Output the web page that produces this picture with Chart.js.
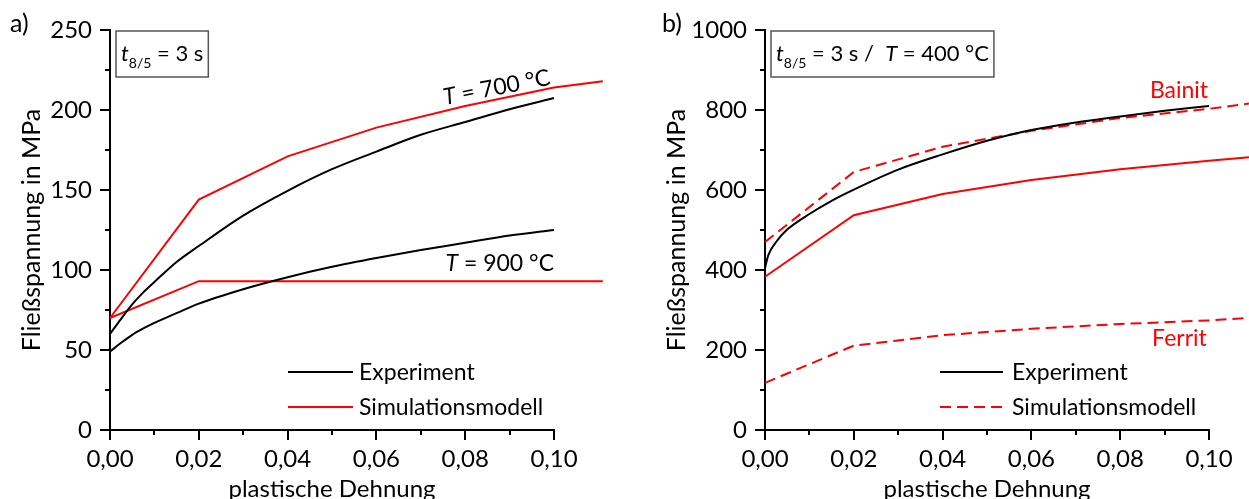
<!DOCTYPE html>
<html>
<head>
<meta charset="utf-8">
<script src="https://cdn.jsdelivr.net/npm/chart.js@4.4.1/dist/chart.umd.min.js"></script>
<style>
  html, body { margin: 0; padding: 0; background: #fff; width: 1249px; height: 499px; overflow: hidden; }
  canvas { position: absolute; top: 0; }
  #ca { left: 0; }
  #cb { left: 630px; }
</style>
</head>
<body>
<canvas id="ca" width="630" height="520"></canvas>
<canvas id="cb" width="619" height="520"></canvas>
<script>
// ---- axis ticks ----
const xTickValues = [0, 0.02, 0.04, 0.06, 0.08, 0.10];
const xTickLabels = ['0,00', '0,02', '0,04', '0,06', '0,08', '0,10'];
const xMinorValues = [0.01, 0.03, 0.05, 0.07, 0.09];

const yTickValuesA = [0, 50, 100, 150, 200, 250];
const yTickLabelsA = ['0', '50', '100', '150', '200', '250'];
const yMinorValuesA = [25, 75, 125, 175, 225];

const yTickValuesB = [0, 200, 400, 600, 800, 1000];
const yTickLabelsB = ['0', '200', '400', '600', '800', '1000'];
const yMinorValuesB = [100, 300, 500, 700, 900];

// ---- panel a): t8/5 = 3 s, flow stress vs. plastic strain ----
const strainExpA = [0, 0.0025, 0.005, 0.0075, 0.01, 0.015, 0.02, 0.03, 0.04, 0.05, 0.06, 0.07, 0.08, 0.09, 0.10];
const exp700 = [60, 69.5, 78.5, 86, 92.5, 105, 115, 134, 149.5, 163, 174, 184.5, 192.5, 200.5, 207.5];
const exp900 = [49, 54.5, 59.5, 63.5, 67, 73, 79, 88, 95.5, 102, 107.5, 112.5, 117, 121.5, 125];
const strainSim700 = [0, 0.02, 0.04, 0.06, 0.08, 0.10, 0.111];
const sim700 = [70, 144, 171, 189, 202.5, 214, 218];
const strainSim900 = [0, 0.02, 0.111];
const sim900 = [70, 93, 93];

// ---- panel b): t8/5 = 3 s / T = 400 °C ----
const strainExpB = [0, 0.00075, 0.0025, 0.005, 0.01, 0.015, 0.02, 0.03, 0.04, 0.05, 0.06, 0.07, 0.08, 0.09, 0.10];
const expB = [405, 437, 470, 501, 540, 573, 601, 651, 689, 723, 750, 769, 784, 798, 810];
const strainSimB = [0, 0.02, 0.04, 0.06, 0.08, 0.10, 0.109];
const simBainit = [470, 645, 708, 748, 780, 803, 816];
const simMixed = [383, 537, 590, 625, 652, 673, 682];
const simFerrit = [118, 211, 237, 253, 265, 274, 280];

const FONT = 'Lato, "Open Sans", sans-serif';
const RED = '#ff0000';
const DASH = [11, 6];

const pts = (xs, ys) => xs.map((x, i) => ({ x: x, y: ys[i] }));

function expSet(xs, ys) {
  return { data: pts(xs, ys), borderColor: '#000', borderWidth: 2, pointRadius: 0,
           cubicInterpolationMode: 'monotone', clip: false, order: 0 };
}
function simSet(xs, ys, dash) {
  return { data: pts(xs, ys), borderColor: RED, borderWidth: 2, pointRadius: 0,
           tension: 0, borderDash: dash || [], clip: false, order: 1 };
}

// outward major/minor tick marks on both axes
function tickMarks(p) {
  return {
    id: 'tickMarks',
    afterDraw(chart) {
      const c = chart.ctx, xs = chart.scales.x, ys = chart.scales.y;
      const a = chart.chartArea;
      c.save();
      c.strokeStyle = '#000';
      c.lineWidth = 2;
      c.beginPath();
      const xt = (vals, len) => vals.forEach(v => {
        const px = Math.round(xs.getPixelForValue(v));
        c.moveTo(px, a.bottom); c.lineTo(px, a.bottom + len);
      });
      const yt = (vals, len) => vals.forEach(v => {
        const py = Math.round(ys.getPixelForValue(v));
        c.moveTo(a.left, py); c.lineTo(a.left - len, py);
      });
      xt(xTickValues, 10); xt(xMinorValues, 5);
      yt(p.yTicks, 10); yt(p.yMinor, 5);
      c.stroke();
      c.restore();
    }
  };
}

function drawRuns(c, runs, x, y, size, subSize) {
  runs.forEach(r => {
    const s = r.sub ? subSize : size;
    c.font = (r.italic ? 'italic ' : '') + s + 'px ' + FONT;
    c.fillText(r.t, x, r.sub ? y + 7 : y);
    x += c.measureText(r.t).width;
  });
  return x;
}
function runsWidth(c, runs, size, subSize) {
  let w = 0;
  runs.forEach(r => {
    const s = r.sub ? subSize : size;
    c.font = (r.italic ? 'italic ' : '') + s + 'px ' + FONT;
    w += c.measureText(r.t).width;
  });
  return w;
}

// panel letter, info box, curve labels and legend
function decor(p) {
  return {
    id: 'decor',
    afterDraw(chart) {
      const c = chart.ctx, xs = chart.scales.x, ys = chart.scales.y;
      c.save();
      c.textBaseline = 'alphabetic';
      c.textAlign = 'left';
      c.fillStyle = '#000';
      c.font = '25px ' + FONT;
      c.fillText(p.letter, p.letterX, 32);

      // info box
      const b = p.box;
      const w = runsWidth(c, b.runs, 22, 14);
      c.fillStyle = '#fff';
      c.fillRect(b.x, 31, w + 10, 46);
      c.strokeStyle = '#555';
      c.lineWidth = 1.5;
      c.strokeRect(b.x, 31, w + 10, 46);
      c.fillStyle = '#000';
      drawRuns(c, b.runs, b.x + 5, 61, 22, 14);

      // curve labels
      p.labels.forEach(l => {
        const px = xs.getPixelForValue(l.x), py = ys.getPixelForValue(l.y);
        const w = runsWidth(c, l.runs, 23, 23);
        c.save();
        c.translate(px, py);
        c.rotate((l.rot || 0) * Math.PI / 180);
        c.fillStyle = l.color;
        const x0 = l.align === 'right' ? -w : l.align === 'center' ? -w / 2 : 0;
        drawRuns(c, l.runs, x0, 0, 23, 23);
        c.restore();
      });

      // legend
      const lg = p.legend;
      lg.items.forEach((it, i) => {
        const y = lg.y[i];
        c.beginPath();
        c.strokeStyle = it.color;
        c.lineWidth = 2;
        c.setLineDash(it.dash);
        c.moveTo(lg.x0, y); c.lineTo(lg.x1, y);
        c.stroke();
        c.setLineDash([]);
        c.fillStyle = '#000';
        c.font = '23px ' + FONT;
        c.textBaseline = 'middle';
        c.fillText(it.label, lg.tx, y + 1);
        c.textBaseline = 'alphabetic';
      });
      c.restore();
    }
  };
}

function buildPanel(id, p) {
  return new Chart(document.getElementById(id), {
    type: 'line',
    data: { datasets: p.datasets },
    options: {
      responsive: false,
      animation: false,
      events: [],
      layout: { padding: { left: 0, top: 30, right: p.padRight, bottom: 0 } },
      plugins: { legend: { display: false }, tooltip: { enabled: false } },
      scales: {
        x: {
          type: 'linear', bounds: 'data',
          // range 0 … 0.10 is set here (not as min/max) so the model lines
          // that run past 0.10 are still drawn in full
          afterDataLimits: s => { s.min = 0; s.max = 0.10; },
          afterBuildTicks: s => { s.ticks = xTickValues.map(v => ({ value: v })); s.min = 0; s.max = 0.10; },
          afterFit: s => { s.height = 90; s.paddingLeft = 0; s.paddingRight = 0; },
          ticks: { callback: (v, i) => xTickLabels[i], padding: 15, color: '#000',
                   font: { family: FONT, size: 24 }, maxRotation: 0, autoSkip: false },
          grid: { display: false, drawTicks: false },
          border: { display: true, color: '#000', width: 2 },
          title: { display: true, text: 'plastische Dehnung', color: '#000',
                   font: { family: FONT, size: 24 }, padding: { top: 0, bottom: 16 } }
        },
        y: {
          type: 'linear', min: 0, max: p.yMax,
          afterBuildTicks: s => { s.ticks = p.yTicks.map(v => ({ value: v })); },
          afterFit: s => { s.width = p.yWidth; s.paddingTop = 0; s.paddingBottom = 0; },
          ticks: { callback: (v, i) => p.yLabels[i], padding: 18, color: '#000',
                   font: { family: FONT, size: 24 }, autoSkip: false },
          grid: { display: false, drawTicks: false },
          border: { display: true, color: '#000', width: 2 },
          title: { display: true, text: 'Fließspannung in MPa', color: '#000',
                   font: { family: FONT, size: 25 }, padding: { top: p.yTitlePad, bottom: 0 } }
        }
      }
    },
    plugins: [tickMarks(p), decor(p)]
  });
}

buildPanel('ca', {
  datasets: [
    simSet(strainSim700, sim700),
    simSet(strainSim900, sim900),
    expSet(strainExpA, exp700),
    expSet(strainExpA, exp900)
  ],
  padRight: 76, yWidth: 110, yTitlePad: 17, yMax: 250,
  yTicks: yTickValuesA, yLabels: yTickLabelsA, yMinor: yMinorValuesA,
  letter: 'a)', letterX: 10,
  box: { x: 116, runs: [{ t: 't', italic: true }, { t: '8/5', sub: true }, { t: ' = 3 s' }] },
  labels: [
    { x: 0.0874, y: 209.5, rot: -10.8, align: 'center', color: '#000',
      runs: [{ t: 'T', italic: true }, { t: ' = 700 °C' }] },
    { x: 0.10, y: 99.5, rot: 0, align: 'right', color: '#000',
      runs: [{ t: 'T', italic: true }, { t: ' = 900 °C' }] }
  ],
  legend: { x0: 288, x1: 353, tx: 359, y: [372, 407],
    items: [{ label: 'Experiment', color: '#000', dash: [] },
            { label: 'Simulationsmodell', color: RED, dash: [] }] }
});

buildPanel('cb', {
  datasets: [
    simSet(strainSimB, simBainit, DASH),
    simSet(strainSimB, simMixed),
    simSet(strainSimB, simFerrit, DASH),
    expSet(strainExpB, expB)
  ],
  padRight: 40, yWidth: 135, yTitlePad: 32, yMax: 1000,
  yTicks: yTickValuesB, yLabels: yTickLabelsB, yMinor: yMinorValuesB,
  letter: 'b)', letterX: 32,
  box: { x: 141, runs: [{ t: 't', italic: true }, { t: '8/5', sub: true }, { t: ' = 3 s /  ' },
                        { t: 'T', italic: true }, { t: ' = 400 °C' }] },
  labels: [
    { x: 0.0998, y: 830, rot: 0, align: 'right', color: RED, runs: [{ t: 'Bainit' }] },
    { x: 0.0995, y: 210, rot: 0, align: 'right', color: RED, runs: [{ t: 'Ferrit' }] }
  ],
  legend: { x0: 310, x1: 373, tx: 382, y: [372, 407],
    items: [{ label: 'Experiment', color: '#000', dash: [] },
            { label: 'Simulationsmodell', color: RED, dash: DASH }] }
});
</script>
</body>
</html>
